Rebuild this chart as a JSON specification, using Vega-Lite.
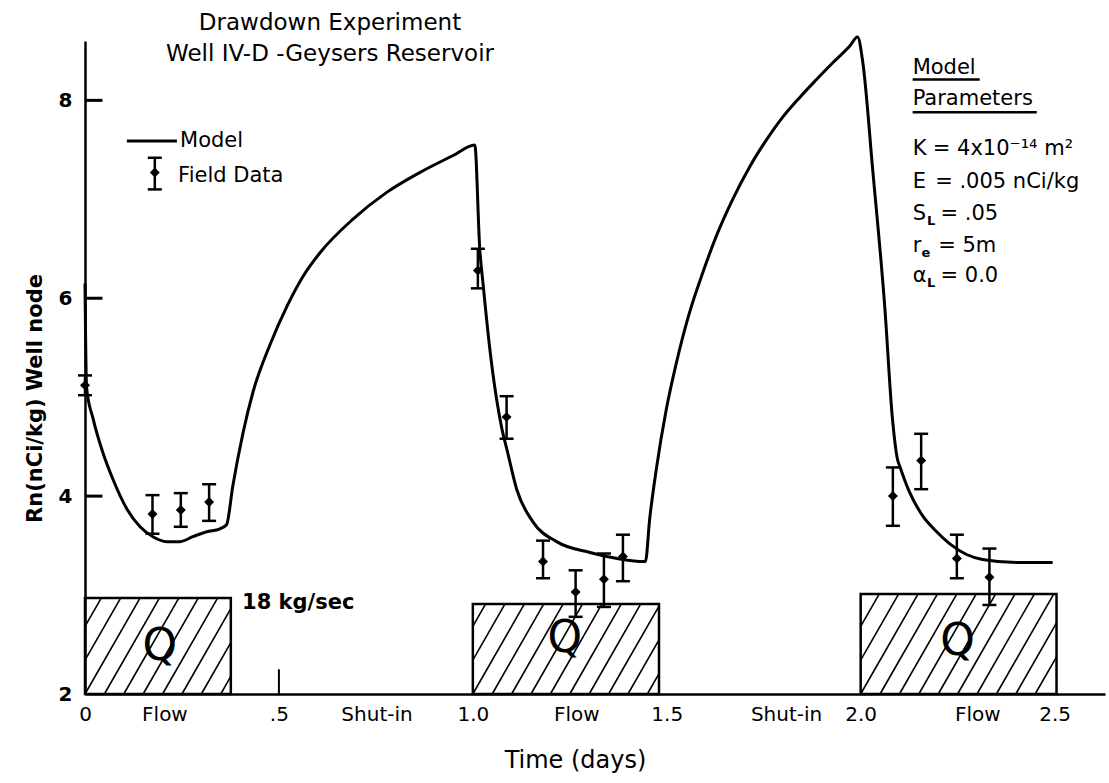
{
  "$schema": "https://vega.github.io/schema/vega-lite/v6.json",
  "width": 1020,
  "height": 653,
  "autosize": "none",
  "padding": {"left": 85, "top": 41, "right": 4, "bottom": 89},
  "background": "white",
  "config": {
    "view": {"stroke": null},
    "font": "DejaVu Sans",
    "text": {"font": "DejaVu Sans", "color": "black"}
  },
  "title": {
    "text": ["Drawdown Experiment", "Well IV-D -Geysers Reservoir"],
    "anchor": "start",
    "frame": "group",
    "align": "center",
    "baseline": "bottom",
    "dx": 245,
    "offset": -58,
    "fontSize": 23,
    "fontWeight": "normal",
    "font": "DejaVu Sans",
    "lineHeight": 31,
    "color": "black"
  },
  "datasets": {
    "boxes": [
      {"x": 0, "x2": 0.376, "y": 2, "y2": 2.97},
      {"x": 1.0, "x2": 1.48, "y": 2, "y2": 2.91},
      {"x": 2.0, "x2": 2.505, "y": 2, "y2": 3.01}
    ],
    "hatch": [
      {"x": 0, "y": 2.684, "x2": 0.0418, "y2": 2.97},
      {"x": 0, "y": 2.342, "x2": 0.0918, "y2": 2.97},
      {"x": 0, "y": 2, "x2": 0.1418, "y2": 2.97},
      {"x": 0.05, "y": 2, "x2": 0.1918, "y2": 2.97},
      {"x": 0.10, "y": 2, "x2": 0.2418, "y2": 2.97},
      {"x": 0.15, "y": 2, "x2": 0.2918, "y2": 2.97},
      {"x": 0.20, "y": 2, "x2": 0.3418, "y2": 2.97},
      {"x": 0.25, "y": 2, "x2": 0.376, "y2": 2.862},
      {"x": 0.30, "y": 2, "x2": 0.376, "y2": 2.52},
      {"x": 0.35, "y": 2, "x2": 0.376, "y2": 2.178},
      {"x": 1.0, "y": 2.684, "x2": 1.033, "y2": 2.91},
      {"x": 1.0, "y": 2.342, "x2": 1.083, "y2": 2.91},
      {"x": 1.0, "y": 2, "x2": 1.133, "y2": 2.91},
      {"x": 1.05, "y": 2, "x2": 1.183, "y2": 2.91},
      {"x": 1.10, "y": 2, "x2": 1.233, "y2": 2.91},
      {"x": 1.15, "y": 2, "x2": 1.283, "y2": 2.91},
      {"x": 1.20, "y": 2, "x2": 1.333, "y2": 2.91},
      {"x": 1.25, "y": 2, "x2": 1.383, "y2": 2.91},
      {"x": 1.30, "y": 2, "x2": 1.433, "y2": 2.91},
      {"x": 1.35, "y": 2, "x2": 1.48, "y2": 2.889},
      {"x": 1.40, "y": 2, "x2": 1.48, "y2": 2.547},
      {"x": 1.45, "y": 2, "x2": 1.48, "y2": 2.205},
      {"x": 2.0, "y": 2.684, "x2": 2.0477, "y2": 3.01},
      {"x": 2.0, "y": 2.342, "x2": 2.0977, "y2": 3.01},
      {"x": 2.0, "y": 2, "x2": 2.1477, "y2": 3.01},
      {"x": 2.05, "y": 2, "x2": 2.1977, "y2": 3.01},
      {"x": 2.10, "y": 2, "x2": 2.2477, "y2": 3.01},
      {"x": 2.15, "y": 2, "x2": 2.2977, "y2": 3.01},
      {"x": 2.20, "y": 2, "x2": 2.3477, "y2": 3.01},
      {"x": 2.25, "y": 2, "x2": 2.3977, "y2": 3.01},
      {"x": 2.30, "y": 2, "x2": 2.4477, "y2": 3.01},
      {"x": 2.35, "y": 2, "x2": 2.4977, "y2": 3.01},
      {"x": 2.40, "y": 2, "x2": 2.505, "y2": 2.718},
      {"x": 2.45, "y": 2, "x2": 2.505, "y2": 2.376}
    ],
    "qlabels": [
      {"x": 0.193, "y": 2.47, "text": "Q"},
      {"x": 1.237, "y": 2.56, "text": "Q"},
      {"x": 2.25, "y": 2.53, "text": "Q"}
    ],
    "model": [
      {"t": 0, "rn": 6.15}, {"t": 0.004, "rn": 5.1}, {"t": 0.021, "rn": 4.78}, {"t": 0.046, "rn": 4.44},
      {"t": 0.072, "rn": 4.17}, {"t": 0.108, "rn": 3.87}, {"t": 0.142, "rn": 3.69}, {"t": 0.175, "rn": 3.59},
      {"t": 0.211, "rn": 3.54}, {"t": 0.245, "rn": 3.54}, {"t": 0.278, "rn": 3.59}, {"t": 0.314, "rn": 3.64},
      {"t": 0.348, "rn": 3.67}, {"t": 0.365, "rn": 3.71},
      {"t": 0.381, "rn": 4.10}, {"t": 0.407, "rn": 4.63}, {"t": 0.433, "rn": 5.05}, {"t": 0.477, "rn": 5.53},
      {"t": 0.521, "rn": 5.92}, {"t": 0.562, "rn": 6.22}, {"t": 0.606, "rn": 6.46}, {"t": 0.691, "rn": 6.8},
      {"t": 0.778, "rn": 7.07}, {"t": 0.863, "rn": 7.27}, {"t": 0.948, "rn": 7.44}, {"t": 1.005, "rn": 7.55},
      {"t": 1.018, "rn": 6.49}, {"t": 1.026, "rn": 6.16}, {"t": 1.044, "rn": 5.48}, {"t": 1.075, "rn": 4.68},
      {"t": 1.088, "rn": 4.47}, {"t": 1.113, "rn": 4.07}, {"t": 1.155, "rn": 3.74}, {"t": 1.216, "rn": 3.54},
      {"t": 1.302, "rn": 3.43}, {"t": 1.345, "rn": 3.39}, {"t": 1.43, "rn": 3.34}, {"t": 1.445, "rn": 3.34},
      {"t": 1.456, "rn": 3.77}, {"t": 1.473, "rn": 4.27}, {"t": 1.499, "rn": 4.88}, {"t": 1.525, "rn": 5.35},
      {"t": 1.559, "rn": 5.86}, {"t": 1.593, "rn": 6.26}, {"t": 1.628, "rn": 6.63}, {"t": 1.67, "rn": 7.0},
      {"t": 1.714, "rn": 7.33}, {"t": 1.757, "rn": 7.6}, {"t": 1.799, "rn": 7.83}, {"t": 1.843, "rn": 8.03},
      {"t": 1.886, "rn": 8.21}, {"t": 1.928, "rn": 8.38}, {"t": 1.972, "rn": 8.55}, {"t": 1.992, "rn": 8.64},
      {"t": 2.005, "rn": 8.4}, {"t": 2.031, "rn": 7.3}, {"t": 2.062, "rn": 5.92}, {"t": 2.082, "rn": 4.78},
      {"t": 2.095, "rn": 4.37}, {"t": 2.101, "rn": 4.3}, {"t": 2.126, "rn": 4.04}, {"t": 2.16, "rn": 3.8},
      {"t": 2.196, "rn": 3.64}, {"t": 2.229, "rn": 3.52}, {"t": 2.273, "rn": 3.41}, {"t": 2.314, "rn": 3.36},
      {"t": 2.402, "rn": 3.33}, {"t": 2.495, "rn": 3.33}
    ],
    "field": [
      {"t": 0.0, "rn": 5.12, "lo": 5.02, "hi": 5.22},
      {"t": 0.174, "rn": 3.82, "lo": 3.62, "hi": 4.01},
      {"t": 0.247, "rn": 3.86, "lo": 3.69, "hi": 4.03},
      {"t": 0.32, "rn": 3.94, "lo": 3.75, "hi": 4.12},
      {"t": 1.013, "rn": 6.28, "lo": 6.1, "hi": 6.5},
      {"t": 1.087, "rn": 4.8, "lo": 4.58, "hi": 5.01},
      {"t": 1.181, "rn": 3.34, "lo": 3.17, "hi": 3.55},
      {"t": 1.265, "rn": 3.03, "lo": 2.78, "hi": 3.25},
      {"t": 1.338, "rn": 3.16, "lo": 2.88, "hi": 3.42},
      {"t": 1.387, "rn": 3.39, "lo": 3.14, "hi": 3.61},
      {"t": 2.083, "rn": 4.0, "lo": 3.7, "hi": 4.29},
      {"t": 2.156, "rn": 4.36, "lo": 4.07, "hi": 4.63},
      {"t": 2.248, "rn": 3.37, "lo": 3.17, "hi": 3.61},
      {"t": 2.332, "rn": 3.18, "lo": 2.9, "hi": 3.47},
      {"t": 0.18, "rn": 7.27, "lo": 7.1, "hi": 7.42}
    ],
    "legendline": [{"x": 0.108, "x2": 0.237, "y": 7.59}],
    "ylevels": [
      {"x": 0, "x2": 0.045, "y": 4},
      {"x": 0, "x2": 0.045, "y": 6},
      {"x": 0, "x2": 0.045, "y": 8}
    ],
    "notes": [
      {"x": 0.245, "y": 7.59, "text": "Model"},
      {"x": 0.24, "y": 7.24, "text": "Field Data"},
      {"x": 2.134, "y": 8.33, "text": "Model"},
      {"x": 2.134, "y": 8.01, "text": "Parameters"},
      {"x": 2.134, "y": 7.51, "text": "K"},
      {"x": 2.186, "y": 7.51, "text": "= 4x10⁻¹⁴ m²"},
      {"x": 2.134, "y": 7.17, "text": "E"},
      {"x": 2.192, "y": 7.17, "text": "= .005 nCi/kg"},
      {"x": 2.134, "y": 6.85, "text": "S"},
      {"x": 2.206, "y": 6.85, "text": "= .05"},
      {"x": 2.134, "y": 6.53, "text": "r"},
      {"x": 2.2, "y": 6.53, "text": "=  5m"},
      {"x": 2.134, "y": 6.22, "text": "α"},
      {"x": 2.206, "y": 6.22, "text": "=  0.0"}
    ],
    "subs": [
      {"x": 2.171, "y": 6.78, "text": "L"},
      {"x": 2.157, "y": 6.46, "text": "e"},
      {"x": 2.171, "y": 6.15, "text": "L"}
    ],
    "underlines": [
      {"x": 2.134, "x2": 2.307, "y": 8.21},
      {"x": 2.134, "x2": 2.454, "y": 7.88}
    ],
    "phases": [
      {"x": 0.206, "text": "Flow"},
      {"x": 0.753, "text": "Shut-in"},
      {"x": 1.268, "text": "Flow"},
      {"x": 1.809, "text": "Shut-in"},
      {"x": 2.302, "text": "Flow"}
    ],
    "flowrate": [{"x": 0.405, "y": 2.92, "text": "18 kg/sec"}],
    "halftick": [{"x": 0.5, "y": 2, "y2": 2.25}]
  },
  "layer": [
    {
      "data": {"name": "boxes"},
      "mark": {"type": "rect", "filled": false, "stroke": "black", "strokeWidth": 2.5},
      "encoding": {
        "x": {
          "field": "x", "type": "quantitative",
          "scale": {"domain": [0, 2.63], "nice": false, "zero": false},
          "axis": {
            "title": "Time (days)",
            "values": [0, 0.5, 1, 1.5, 2, 2.5],
            "labelExpr": "datum.value == 0 ? '0' : datum.value == 0.5 ? '.5' : format(datum.value, '.1f')",
            "ticks": false, "grid": false,
            "domainColor": "black", "domainWidth": 2.5,
            "labelFont": "DejaVu Sans", "labelFontSize": 20, "labelColor": "black", "labelPadding": 10,
            "labelFlush": false, "labelOverlap": false, "labelBound": false,
            "titleFont": "DejaVu Sans", "titleFontSize": 24, "titleFontWeight": "normal", "titleColor": "black",
            "titleX": 490, "titleY": 66, "titleBaseline": "middle", "titleAlign": "center"
          }
        },
        "x2": {"field": "x2"},
        "y": {
          "field": "y", "type": "quantitative",
          "scale": {"domain": [2, 8.6], "nice": false, "zero": false},
          "axis": {
            "title": "Rn(nCi/kg)  Well node",
            "values": [2, 4, 6, 8],
            "format": "d",
            "ticks": false,
            "grid": false,
            "domainColor": "black", "domainWidth": 2.5,
            "labelFont": "DejaVu Sans", "labelFontSize": 20, "labelFontWeight": "bold", "labelColor": "black",
            "labelPadding": 13, "labelFlush": false, "labelOverlap": false, "labelBound": false,
            "titleFont": "DejaVu Sans", "titleFontSize": 21, "titleFontWeight": "bold", "titleColor": "black",
            "titleX": -50, "titleY": 357, "titleBaseline": "middle", "titleAlign": "center", "titleAngle": -90
          }
        },
        "y2": {"field": "y2"}
      }
    },
    {
      "data": {"name": "hatch"},
      "mark": {"type": "rule", "color": "black", "strokeWidth": 1.6},
      "encoding": {
        "x": {"field": "x", "type": "quantitative"},
        "x2": {"field": "x2"},
        "y": {"field": "y", "type": "quantitative"},
        "y2": {"field": "y2"}
      }
    },
    {
      "data": {"name": "qlabels"},
      "mark": {"type": "text", "fontSize": 44, "font": "DejaVu Sans", "align": "center", "baseline": "middle", "color": "black"},
      "encoding": {
        "x": {"field": "x", "type": "quantitative"},
        "y": {"field": "y", "type": "quantitative"},
        "text": {"field": "text"}
      }
    },
    {
      "data": {"name": "flowrate"},
      "mark": {"type": "text", "fontSize": 21, "fontWeight": "bold", "font": "DejaVu Sans", "align": "left", "baseline": "middle", "color": "black"},
      "encoding": {
        "x": {"field": "x", "type": "quantitative"},
        "y": {"field": "y", "type": "quantitative"},
        "text": {"field": "text"}
      }
    },
    {
      "data": {"name": "halftick"},
      "mark": {"type": "rule", "color": "black", "strokeWidth": 2},
      "encoding": {
        "x": {"field": "x", "type": "quantitative"},
        "y": {"field": "y", "type": "quantitative"},
        "y2": {"field": "y2"}
      }
    },
    {
      "data": {"name": "model"},
      "mark": {"type": "line", "color": "black", "strokeWidth": 3, "interpolate": "monotone"},
      "encoding": {
        "x": {"field": "t", "type": "quantitative"},
        "y": {"field": "rn", "type": "quantitative"}
      }
    },
    {
      "data": {"name": "field"},
      "mark": {"type": "rule", "color": "black", "strokeWidth": 2.5, "opacity": 1},
      "encoding": {
        "x": {"field": "t", "type": "quantitative"},
        "y": {"field": "lo", "type": "quantitative"},
        "y2": {"field": "hi"}
      }
    },
    {
      "data": {"name": "field"},
      "mark": {"type": "tick", "orient": "horizontal", "color": "black", "size": 14, "thickness": 2.5, "opacity": 1},
      "encoding": {
        "x": {"field": "t", "type": "quantitative"},
        "y": {"field": "lo", "type": "quantitative"}
      }
    },
    {
      "data": {"name": "field"},
      "mark": {"type": "tick", "orient": "horizontal", "color": "black", "size": 14, "thickness": 2.5, "opacity": 1},
      "encoding": {
        "x": {"field": "t", "type": "quantitative"},
        "y": {"field": "hi", "type": "quantitative"}
      }
    },
    {
      "data": {"name": "field"},
      "mark": {"type": "point", "shape": "diamond", "filled": true, "color": "black", "size": 100, "opacity": 1},
      "encoding": {
        "x": {"field": "t", "type": "quantitative"},
        "y": {"field": "rn", "type": "quantitative"}
      }
    },
    {
      "data": {"name": "legendline"},
      "mark": {"type": "rule", "color": "black", "strokeWidth": 3},
      "encoding": {
        "x": {"field": "x", "type": "quantitative"},
        "x2": {"field": "x2"},
        "y": {"field": "y", "type": "quantitative"}
      }
    },
    {
      "data": {"name": "ylevels"},
      "mark": {"type": "rule", "color": "black", "strokeWidth": 3},
      "encoding": {
        "x": {"field": "x", "type": "quantitative"},
        "x2": {"field": "x2"},
        "y": {"field": "y", "type": "quantitative"}
      }
    },
    {
      "data": {"name": "notes"},
      "mark": {"type": "text", "fontSize": 21, "font": "DejaVu Sans", "align": "left", "baseline": "middle", "color": "black"},
      "encoding": {
        "x": {"field": "x", "type": "quantitative"},
        "y": {"field": "y", "type": "quantitative"},
        "text": {"field": "text"}
      }
    },
    {
      "data": {"name": "subs"},
      "mark": {"type": "text", "fontSize": 13, "fontWeight": "bold", "font": "DejaVu Sans", "align": "left", "baseline": "middle", "color": "black"},
      "encoding": {
        "x": {"field": "x", "type": "quantitative"},
        "y": {"field": "y", "type": "quantitative"},
        "text": {"field": "text"}
      }
    },
    {
      "data": {"name": "underlines"},
      "mark": {"type": "rule", "color": "black", "strokeWidth": 2.5},
      "encoding": {
        "x": {"field": "x", "type": "quantitative"},
        "x2": {"field": "x2"},
        "y": {"field": "y", "type": "quantitative"}
      }
    },
    {
      "data": {"name": "phases"},
      "mark": {"type": "text", "fontSize": 20, "font": "DejaVu Sans", "align": "center", "baseline": "middle", "dy": 21, "color": "black"},
      "encoding": {
        "x": {"field": "x", "type": "quantitative"},
        "y": {"datum": 2, "type": "quantitative"},
        "text": {"field": "text"}
      }
    }
  ]
}
